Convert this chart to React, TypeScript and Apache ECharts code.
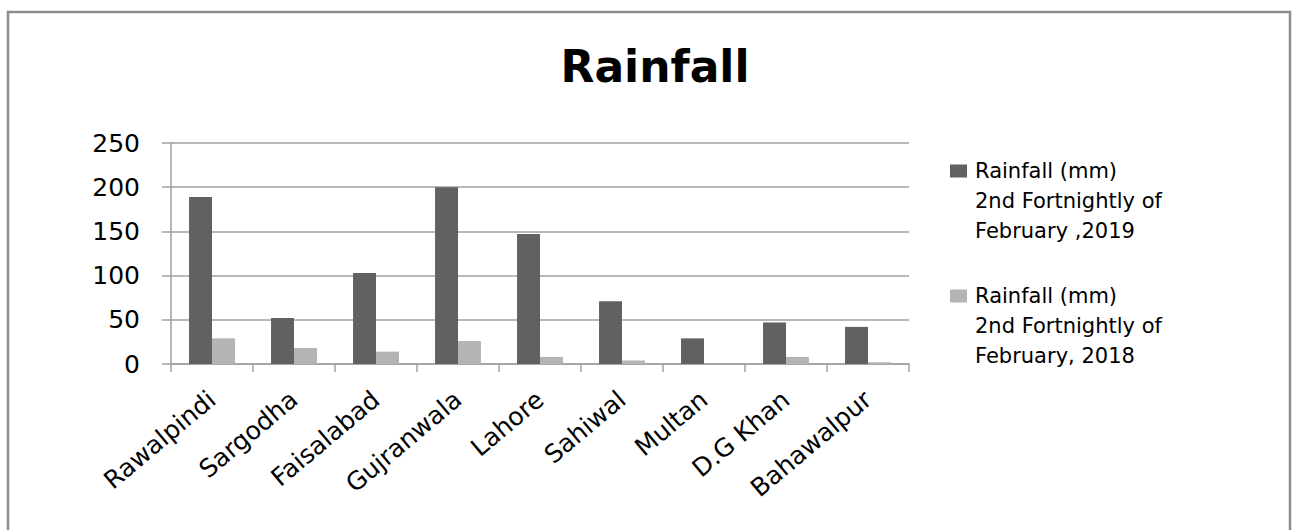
import React, { useEffect, useRef } from "react";
import * as echarts from "echarts";

const categories = [
  "Rawalpindi",
  "Sargodha",
  "Faisalabad",
  "Gujranwala",
  "Lahore",
  "Sahiwal",
  "Multan",
  "D.G Khan",
  "Bahawalpur",
];
const rain2019 = [189, 52, 103, 200, 147, 71, 29, 47, 42];
const rain2018 = [29, 18, 14, 26, 8, 4, 0, 8, 2];
const name2019 = "Rainfall (mm)\n2nd Fortnightly of\nFebruary ,2019";
const name2018 = "Rainfall (mm)\n2nd Fortnightly of\nFebruary, 2018";
const yTicks = [0, 50, 100, 150, 200, 250];

export default function App() {
  const ref = useRef<HTMLDivElement>(null);
  useEffect(() => {
    if (!ref.current) return;
    const chart = echarts.init(ref.current, undefined, { renderer: "svg" });
    const font = "DejaVu Sans";
    chart.setOption({
      animation: false,
      backgroundColor: "#ffffff",
      title: {
        text: "Rainfall",
        left: 650,
        top: 39,
        textAlign: "center",
        textStyle: { fontFamily: font, fontWeight: "bold", fontSize: 44, color: "#000" },
      },
      legend: {
        orient: "vertical",
        left: 950,
        top: 96,
        padding: 0,
        itemWidth: 23,
        itemHeight: 13,
        itemGap: -25,
        icon: "path://M0,0H17V13H0Z",
        data: [name2019, name2018],
        formatter: (n: string) => "\n\n" + n,
        textStyle: {
          fontFamily: font,
          fontSize: 21,
          color: "#000",
          lineHeight: 30,
        },
      },
      graphic: [
        {
          type: "rect",
          shape: { x: 8, y: 12, width: 1282, height: 600 },
          style: { fill: "none", stroke: "#8c8c8c", lineWidth: 2.5 },
          silent: true,
        },
      ],
      grid: { left: 171, top: 143, width: 738, height: 221 },
      xAxis: {
        type: "category",
        data: categories,
        axisLine: { lineStyle: { color: "#a0a0a0", width: 1.5 } },
        axisTick: { show: true, length: 8, lineStyle: { color: "#a0a0a0", width: 1.5 } },
        axisLabel: {
          rotate: 40,
          margin: 32,
          fontFamily: font,
          fontSize: 25,
          color: "#000",
          interval: 0,
        },
      },
      yAxis: {
        type: "value",
        min: 0,
        max: 250,
        interval: 50,
        axisLine: { show: true, lineStyle: { color: "#a0a0a0", width: 1.5 } },
        axisTick: { show: true, length: 9, lineStyle: { color: "#a0a0a0", width: 1.5 } },
        splitLine: { lineStyle: { color: "#a0a0a0", width: 1.5 } },
        axisLabel: {
          margin: 31,
          fontFamily: font,
          fontSize: 25,
          color: "#000",
          customValues: yTicks,
        },
      },
      series: [
        {
          name: name2019,
          type: "bar",
          data: rain2019,
          barGap: "0%",
          barCategoryGap: "44%",
          itemStyle: { color: "#616161" },
        },
        {
          name: name2018,
          type: "bar",
          data: rain2018,
          itemStyle: { color: "#b4b4b4" },
        },
      ],
    });
    return () => chart.dispose();
  }, []);
  return (
    <div
      ref={ref}
      style={{ position: "absolute", left: 0, top: 0, width: 1292, height: 530 }}
    />
  );
}
